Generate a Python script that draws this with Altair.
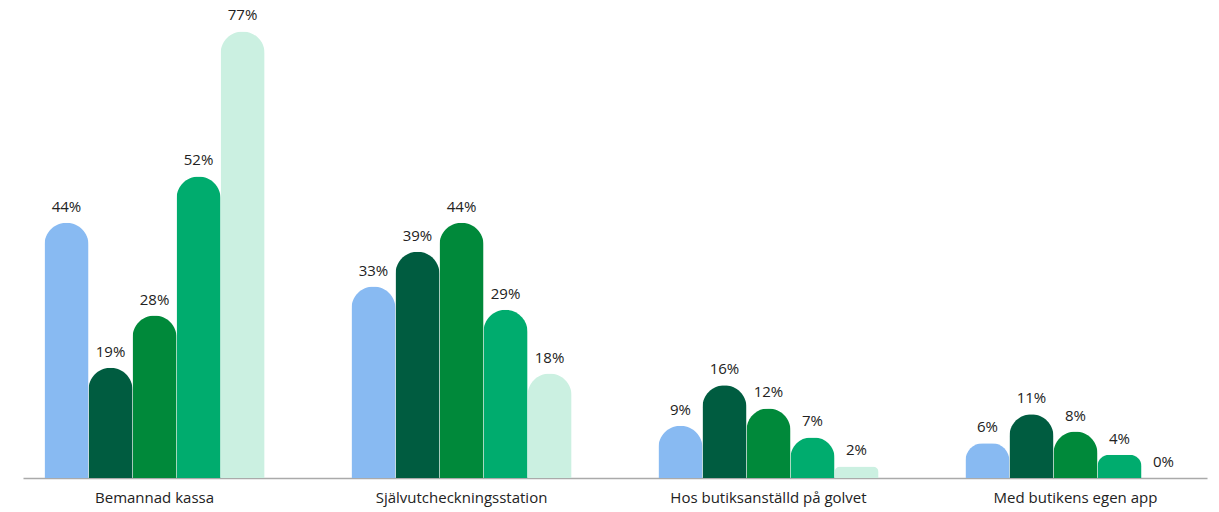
import altair as alt
import pandas as pd

categories = ["Bemannad kassa", "Självutcheckningsstation", "Hos butiksanställd på golvet", "Med butikens egen app"]
series = ["Serie 1", "Serie 2", "Serie 3", "Serie 4", "Serie 5"]
colors = ["#88BAF2", "#005C40", "#00893A", "#00AC6E", "#CBF0E1"]
values = {
    "Serie 1": [44, 33, 9, 6],
    "Serie 2": [19, 39, 16, 11],
    "Serie 3": [28, 44, 12, 8],
    "Serie 4": [52, 29, 7, 4],
    "Serie 5": [77, 18, 2, 0],
}

rows = []
for s in series:
    for c, v in zip(categories, values[s]):
        rows.append({"kategori": c, "serie": s, "varde": v})
df = pd.DataFrame(rows)

FONT = "Open Sans"

base = alt.Chart(df).encode(
    x=alt.X("kategori:N", sort=categories, title=None,
            scale=alt.Scale(paddingInner=0.283, paddingOuter=0.07),
            axis=alt.Axis(labelAngle=0, labelFontSize=15, labelColor="#222222",
                          labelFont=FONT, labelLimit=0, ticks=False, domainColor="#AAAAAA",
                          domainWidth=1.5, labelPadding=12)),
    xOffset=alt.XOffset("serie:N", sort=series, scale=alt.Scale(paddingInner=0, paddingOuter=0)),
    y=alt.Y("varde:Q", scale=alt.Scale(domain=[0, 80], nice=False), axis=None),
)

bars = base.mark_bar(cornerRadiusTopLeft=22, cornerRadiusTopRight=22).encode(
    color=alt.Color("serie:N", sort=series,
                    scale=alt.Scale(domain=series, range=colors), legend=None)
)

labels = base.transform_calculate(label="datum.varde + '%'").mark_text(
    baseline="bottom", dy=-8, fontSize=15, font=FONT, color="#222222"
).encode(text="label:N")

chart = alt.layer(bars, labels).properties(
    width=1184, height=464,
    autosize=alt.AutoSizeParams(type="none"),
    padding={"left": 23, "top": 14, "right": 12, "bottom": 34},
).configure_view(stroke=None)

chart.save("out.html", embed_options={"renderer": "svg", "actions": False})
